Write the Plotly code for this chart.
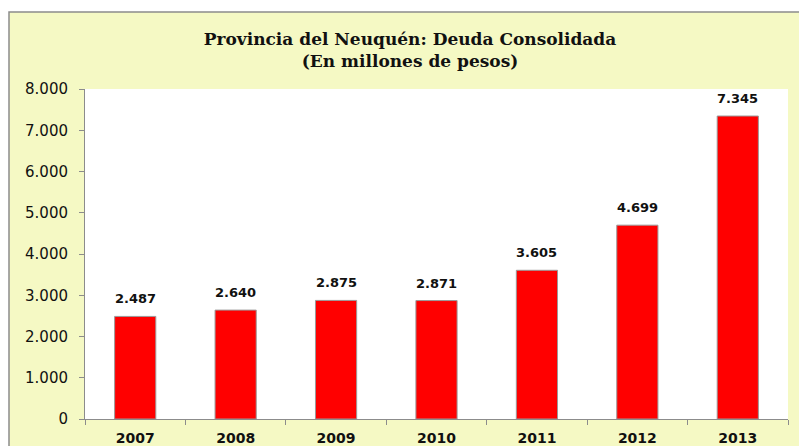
import plotly.graph_objects as go

years = ["2007", "2008", "2009", "2010", "2011", "2012", "2013"]
deuda = [2487, 2640, 2875, 2871, 3605, 4699, 7345]
y_ticks = [0, 1000, 2000, 3000, 4000, 5000, 6000, 7000, 8000]

def fmt(v):
    return f"{v:,}".replace(",", ".")

W, H = 799, 446
L, R, T, B = 85, 11, 89, 27
pw, ph = W - L - R, H - T - B

def px_x(p):
    return (p - L) / pw

def px_y(p):
    return (H - B - p) / ph

fig = go.Figure()
fig.add_trace(go.Bar(
    x=years, y=deuda,
    marker=dict(color="#FF0000", line=dict(color="#9a9a9a", width=1)),
    width=0.41,
    hoverinfo="x+y",
))

for i, v in enumerate(deuda):
    fig.add_annotation(x=i, y=v, text=fmt(v), showarrow=False,
                       yanchor="bottom", yshift=8,
                       font=dict(family="DejaVu Sans", size=13, color="#111", weight="bold"))

# outer chart box and white plot area
fig.add_shape(type="rect", xref="paper", yref="paper",
              x0=px_x(9), x1=px_x(820), y0=px_y(460), y1=px_y(12),
              fillcolor="#F5F9C4", line=dict(color="#8c8c8c", width=1.5), layer="below")
fig.add_shape(type="rect", xref="paper", yref="paper",
              x0=0, x1=1, y0=0, y1=1,
              fillcolor="#FFFFFF", line=dict(width=0), layer="below")

fig.update_layout(
    width=W, height=H,
    margin=dict(l=L, r=R, t=T, b=B, autoexpand=False),
    paper_bgcolor="#FFFFFF",
    plot_bgcolor="rgba(0,0,0,0)",
    separators=",.",
    showlegend=False,
    title=dict(
        text="Provincia del Neuquén: Deuda Consolidada<br>(En millones de pesos)",
        x=410 / W, xref="container", xanchor="center",
        y=1 - 45 / H, yref="container", yanchor="middle",
        font=dict(family="DejaVu Serif", size=17, color="#111", weight="bold"),
        automargin=False,
    ),
    xaxis=dict(
        type="category", automargin=False, range=[-0.5, len(years) - 0.5],
        showgrid=False, showline=True, linecolor="#8c8c8c", linewidth=1,
        ticks="outside", tickson="boundaries", ticklen=5, tickcolor="#8c8c8c",
        tickfont=dict(family="DejaVu Sans", size=14, color="#111", weight="bold"),
        ticklabelstandoff=6, tickangle=0,
    ),
    yaxis=dict(
        automargin=False,
        range=[0, 8000], tickvals=y_ticks, ticktext=[fmt(v) for v in y_ticks],
        showgrid=False, showline=True, linecolor="#8c8c8c", linewidth=1,
        ticks="outside", ticklen=5, tickcolor="#8c8c8c",
        tickfont=dict(family="DejaVu Sans", size=15, color="#111"),
        ticklabelstandoff=8, zeroline=False,
    ),
)

fig.write_html("out.html", config={"displayModeBar": False},
               post_script="document.body.style.margin='0';")
